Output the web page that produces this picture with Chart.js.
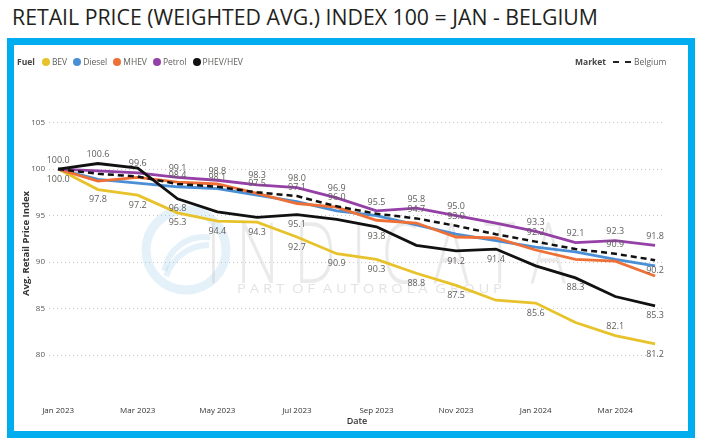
<!DOCTYPE html>
<html>
<head>
<meta charset="utf-8">
<script src="https://cdn.jsdelivr.net/npm/chart.js@4.4.1/dist/chart.umd.min.js"></script>
<style>
  body { margin: 0; background: #fff; width: 702px; height: 439px; overflow: hidden; position: relative; font-family: "Open Sans", sans-serif; }
  #title { position: absolute; left: 12px; top: 2px; font-family: "Liberation Sans Narrow", "Open Sans", sans-serif; font-size: 22px; line-height: 28px; color: #231f20; white-space: nowrap; transform-origin: 0 0; }
  #frame { position: absolute; left: 7px; top: 38px; width: 688px; height: 400px; border: 7px solid #00aeef; box-sizing: border-box; }
  #chartBox { position: absolute; left: 14px; top: 45px; }
  .legend { position: absolute; top: 56px; font-size: 8.5px; color: #605e5c; display: flex; align-items: center; white-space: nowrap; }
  .legend b { color: #444; margin-right: 7px; }
  .legend .dot { width: 8px; height: 8px; border-radius: 50%; display: inline-block; margin-right: 2px; }
  .legend .item { display: flex; align-items: center; margin-right: 6px; }
  .dash { width: 18px; border-top: 2px dashed #222; margin-right: 3px; display: inline-block; }
</style>
</head>
<body>
<div id="title">RETAIL PRICE (WEIGHTED AVG.) INDEX 100 = JAN - BELGIUM</div>
<div id="frame"></div>
<div id="chartBox"><canvas id="lineChart" width="674" height="386"></canvas></div>
<div class="legend" style="left:17px">
  <b>Fuel</b>
  <span class="item"><span class="dot" style="background:#e8c22a"></span>BEV</span>
  <span class="item"><span class="dot" style="background:#4a8fd6"></span>Diesel</span>
  <span class="item"><span class="dot" style="background:#ee7036"></span>MHEV</span>
  <span class="item"><span class="dot" style="background:#9440a6"></span>Petrol</span>
  <span class="item"><span class="dot" style="background:#111"></span>PHEV/HEV</span>
</div>
<div class="legend" style="left:575px">
  <b>Market</b><span class="dash"></span>Belgium
</div>
<script>
const months = ['Jan 2023', 'Feb 2023', 'Mar 2023', 'Apr 2023', 'May 2023', 'Jun 2023', 'Jul 2023', 'Aug 2023',
  'Sep 2023', 'Oct 2023', 'Nov 2023', 'Dec 2023', 'Jan 2024', 'Feb 2024', 'Mar 2024', 'Apr 2024'];
const xTickIdx = [0, 2, 4, 6, 8, 10, 12, 14];
const yTicks = [80, 85, 90, 95, 100, 105];

const bev = [100.0, 97.8, 97.2, 95.3, 94.4, 94.3, 92.7, 90.9, 90.3, 88.8, 87.5, 85.9, 85.6, 83.5, 82.1, 81.2];
const diesel = [100.0, 98.9, 98.5, 98.1, 97.9, 97.2, 96.5, 95.5, 95.0, 94.0, 93.0, 92.3, 91.6, 91.1, 90.3, 89.6];
const mhev = [100.0, 98.7, 99.1, 98.6, 98.4, 97.4, 96.3, 95.9, 94.5, 94.2, 92.7, 92.6, 91.3, 90.3, 90.1, 88.5];
const petrol = [100.0, 99.8, 99.6, 99.1, 98.8, 98.3, 98.0, 96.9, 95.5, 95.8, 95.0, 94.2, 93.3, 92.1, 92.3, 91.8];
const phev = [100.0, 100.6, 100.1, 96.8, 95.4, 94.8, 95.1, 94.6, 93.8, 91.8, 91.2, 91.4, 89.6, 88.3, 86.3, 85.3];
const belgium = [100.0, 99.5, 99.2, 98.4, 98.1, 97.5, 97.1, 96.0, 95.2, 94.7, 93.9, 93.0, 92.2, 91.4, 90.9, 90.2];

// fit title width to the reference
const t = document.getElementById('title');
t.style.transform = 'scaleX(' + (586 / t.getBoundingClientRect().width) + ')';

const toPts = arr => arr.map((v, i) => ({ x: i, y: v }));

function line(label, arr, color, extra) {
  return Object.assign({
    label: label,
    data: toPts(arr),
    borderColor: color,
    backgroundColor: color,
    borderWidth: 2.8,
    pointRadius: 0,
    tension: 0,
    above: [],
    below: []
  }, extra || {});
}

const pointLabels = {
  id: 'pointLabels',
  afterDatasetsDraw(chart) {
    const ctx = chart.ctx;
    ctx.save();
    ctx.font = '9px "Open Sans"';
    ctx.fillStyle = '#605e5c';
    ctx.textAlign = 'center';
    ctx.textBaseline = 'middle';
    chart.data.datasets.forEach((ds, di) => {
      const meta = chart.getDatasetMeta(di);
      ds.above.forEach(i => ctx.fillText(ds.data[i].y.toFixed(1), meta.data[i].x, meta.data[i].y - 9));
      ds.below.forEach(i => ctx.fillText(ds.data[i].y.toFixed(1), meta.data[i].x, meta.data[i].y + 10));
    });
    ctx.restore();
  }
};

const watermark = {
  id: 'watermark',
  beforeDatasetsDraw(chart) {
    const ctx = chart.ctx;
    ctx.save();
    // logo ring
    ctx.strokeStyle = 'rgba(120,185,225,0.2)';
    ctx.lineWidth = 9;
    ctx.beginPath();
    ctx.arc(172, 205, 40, 0, Math.PI * 2);
    ctx.stroke();
    ctx.lineWidth = 6;
    ctx.beginPath();
    ctx.arc(190, 232, 40, Math.PI * 1.05, Math.PI * 1.55);
    ctx.stroke();
    ctx.beginPath();
    ctx.arc(195, 245, 45, Math.PI * 1.1, Math.PI * 1.5);
    ctx.stroke();
    // brand text
    ctx.fillStyle = 'rgba(200,200,200,0.38)';
    ctx.textBaseline = 'alphabetic';
    ctx.font = '300 84px "Open Sans"';
    let w = ctx.measureText('I N D I C A T A').width;
    ctx.translate(192, 238);
    ctx.scale(360 / w, 1);
    ctx.fillText('I N D I C A T A', 0, 0);
    ctx.setTransform(1, 0, 0, 1, 0, 0);
    ctx.font = '13px "Open Sans"';
    ctx.fillStyle = 'rgba(190,190,190,0.45)';
    w = ctx.measureText('P A R T  O F  A U T O R O L A  G R O U P').width;
    ctx.translate(223, 248);
    ctx.scale(265 / w, 1);
    ctx.fillText('P A R T  O F  A U T O R O L A  G R O U P', 0, 0);
    ctx.restore();
  }
};

new Chart('lineChart', {
  type: 'line',
  data: {
    datasets: [
      line('Belgium', belgium, '#111', { borderDash: [6, 4], borderWidth: 2.5, above: [3, 4, 5, 6, 7, 9, 10, 12, 14], below: [15] }),
      line('PHEV/HEV', phev, '#111', { above: [1], below: [3, 6, 8, 10, 11, 13, 15] }),
      line('Petrol', petrol, '#9440a6', { above: [0, 2, 3, 4, 5, 6, 7, 8, 9, 10, 12, 13, 14, 15] }),
      line('MHEV', mhev, '#ee7036'),
      line('Diesel', diesel, '#4a8fd6'),
      line('BEV', bev, '#e8c22a', { above: [14], below: [0, 1, 2, 3, 4, 5, 6, 7, 8, 9, 10, 12, 15] })
    ]
  },
  options: {
    responsive: false,
    animation: false,
    devicePixelRatio: 1,
    layout: { padding: { top: 59, right: 23, left: 0, bottom: 0 } },
    plugins: { legend: { display: false }, tooltip: { enabled: false } },
    scales: {
      x: {
        type: 'linear',
        min: -0.23,
        max: 15.25,
        afterBuildTicks: axis => { axis.ticks = xTickIdx.map(v => ({ value: v })); },
        afterFit: axis => { axis.height = 48; },
        ticks: { callback: v => months[v], color: '#333', font: { size: 8, family: 'Open Sans' }, padding: 15, maxRotation: 0 },
        grid: { display: false },
        border: { display: false },
        title: { display: true, text: 'Date', color: '#333', font: { size: 9, family: 'Open Sans', weight: '600' }, padding: { top: 0, bottom: 4 } }
      },
      y: {
        min: 77,
        max: 107,
        afterBuildTicks: axis => { axis.ticks = yTicks.map(v => ({ value: v })); },
        afterFit: axis => { axis.width = 35; },
        ticks: { color: '#555', font: { size: 8, family: 'Open Sans' }, padding: 4 },
        grid: { color: '#c8c8c8', lineWidth: 1, drawTicks: false },
        border: { display: false, dash: [1, 3] },
        title: { display: true, text: 'Avg. Retail Price Index', color: '#333', font: { size: 9.5, family: 'Open Sans', weight: 'bold' }, padding: { top: 7, bottom: 0 } }
      }
    }
  },
  plugins: [watermark, pointLabels]
});
</script>
</body>
</html>
